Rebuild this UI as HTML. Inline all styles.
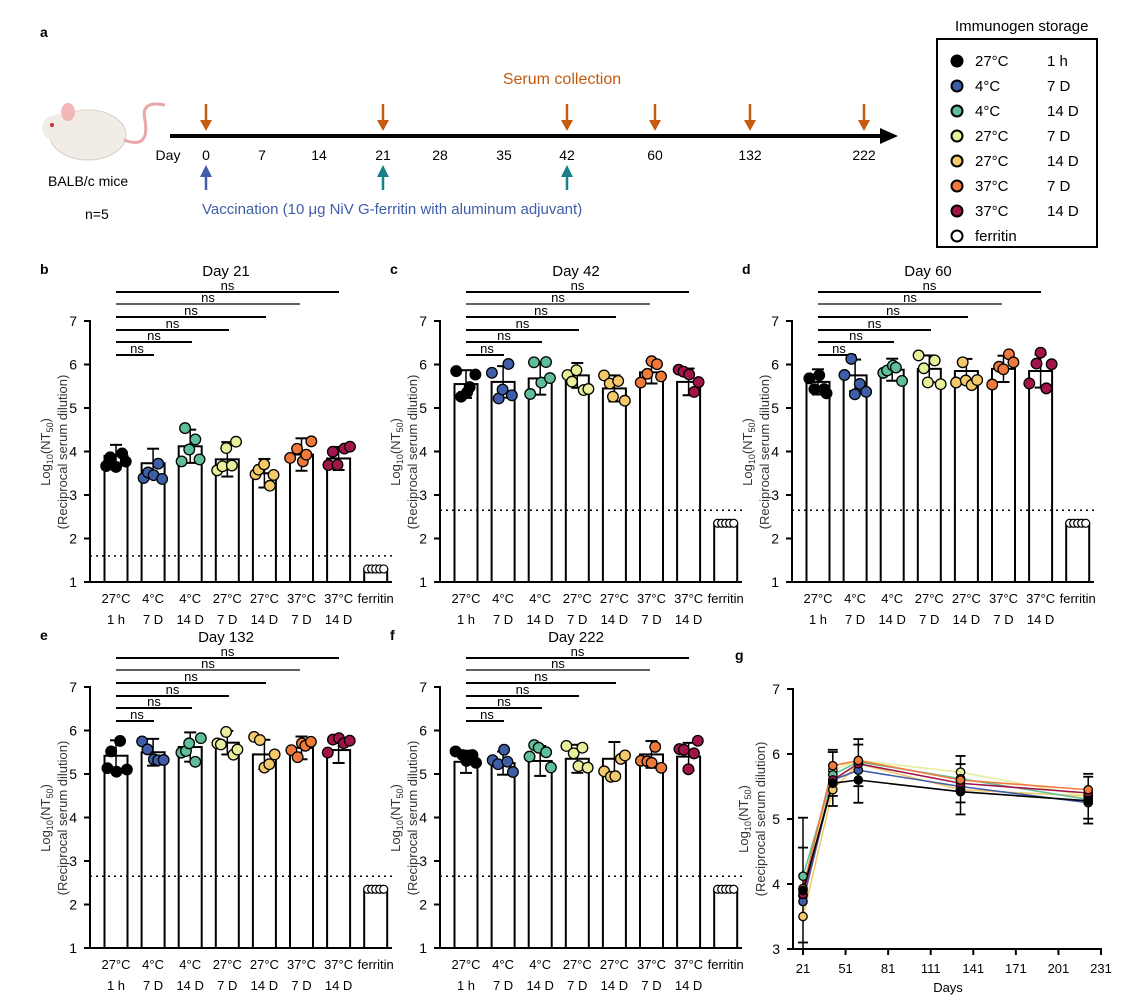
<!DOCTYPE html><html><head><meta charset="utf-8"><style>body{margin:0;background:#fff}svg{display:block;font-family:"Liberation Sans",sans-serif}</style></head><body>
<svg id="s" width="1146" height="1008" viewBox="0 0 1146 1008"></svg>
<script>
const C=['#000','#3f5ea8','#5fbf98','#e8ee9a','#f4c96a','#f07a3c','#a3154a','#fff'];
let h='';
const t=(x,y,s,sz,o)=>{h+=`<text x="${x}" y="${y}" font-size="${sz||14}" ${o||''}>${s}</text>`;};
h+=`<line x1="170" y1="136" x2="885" y2="136" stroke="#000" stroke-width="4"/><polygon points="880,128 898,136 880,144" fill="#000"/>`;
t(40,37,'a',14,'font-weight="bold"');
[['Day',168],['0',206],['7',262],['14',319],['21',383],['28',440],['35',504],['42',567],['60',655],['132',750],['222',864]].forEach(d=>t(d[1],160,d[0],14,'text-anchor="middle"'));
[206,383,567,655,750,864].forEach(x=>{h+=`<line x1="${x}" y1="104" x2="${x}" y2="122" stroke="#c55a11" stroke-width="2.5"/><polygon points="${x-6},120 ${x+6},120 ${x},131" fill="#c55a11"/>`;});
[[206,'#3f5ea8'],[383,'#17808a'],[567,'#17808a']].forEach(a=>{h+=`<line x1="${a[0]}" y1="190" x2="${a[0]}" y2="175" stroke="${a[1]}" stroke-width="2.5"/><polygon points="${a[0]-6},177 ${a[0]+6},177 ${a[0]},165" fill="${a[1]}"/>`;});
t(562,84,'Serum collection',16,'fill="#c55a11" text-anchor="middle"');
t(202,214,'Vaccination (10 μg NiV G-ferritin with aluminum  adjuvant)',15,'fill="#3f5ea8"');
h+=`<ellipse cx="88" cy="135" rx="38" ry="25" fill="#f1ece6" stroke="#d8cfc6"/><ellipse cx="60" cy="128" rx="18" ry="14" fill="#f1ece6"/><ellipse cx="68" cy="112" rx="7" ry="9" fill="#f2b8b8"/><circle cx="52" cy="125" r="2" fill="#c33"/><path d="M124,140 Q150,150 145,120 Q140,100 165,105" stroke="#e8a8a8" stroke-width="3" fill="none"/>`;
t(48,186,'BALB/c mice',14);t(85,219,'n=5',14);
t(955,31,'Immunogen  storage',15);
h+=`<rect x="937" y="39" width="160" height="208" fill="none" stroke="#000" stroke-width="2"/>`;
const L=[['27°C','1 h'],['4°C','7 D'],['4°C','14 D'],['27°C','7 D'],['27°C','14 D'],['37°C','7 D'],['37°C','14 D'],['ferritin','']];
L.forEach((l,i)=>{const y=61+i*25;h+=`<circle cx="957" cy="${y}" r="5.5" fill="${C[i]}" stroke="#000" stroke-width="2"/>`;t(975,y+5,l[0],15);t(1047,y+5,l[1],15);});
function panel(ox,oy,lt,title,means,dot,ferr,seed){
 const Y=v=>oy+582-(v-1)*43.5, X=i=>ox+116+i*37.1;
 t(ox+40,oy+274,lt,14,'font-weight="bold"');
 t(ox+226,oy+276,title,15,'text-anchor="middle"');
 h+=`<line x1="${ox+90}" y1="${oy+320}" x2="${ox+90}" y2="${oy+583}" stroke="#000" stroke-width="2"/><line x1="${ox+89}" y1="${oy+582}" x2="${ox+392}" y2="${oy+582}" stroke="#000" stroke-width="2"/>`;
 for(let v=1;v<=7;v++){h+=`<line x1="${ox+84}" y1="${Y(v)}" x2="${ox+90}" y2="${Y(v)}" stroke="#000" stroke-width="2"/>`;t(ox+77,Y(v)+5,v,14,'text-anchor="end"');}
 const cx=ox+50,cy=oy+452;
 h+=`<text transform="translate(${cx},${cy}) rotate(-90)" font-size="13" fill="#333" text-anchor="middle">Log<tspan font-size="9" dy="3">10</tspan><tspan dy="-3">(NT</tspan><tspan font-size="9" dy="3">50</tspan><tspan dy="-3">)</tspan></text>`;
 h+=`<text transform="translate(${cx+17},${cy}) rotate(-90)" font-size="13" fill="#333" text-anchor="middle">(Reciprocal serum dilution)</text>`;
 const ends=[154,192,229,266,300,339], ys=[355,342,330,317,304,292];
 ends.forEach((e,k)=>{h+=`<line x1="${ox+116}" y1="${oy+ys[k]}" x2="${ox+e}" y2="${oy+ys[k]}" stroke="#000" stroke-width="${k==4?1.2:2}"/>`;t(ox+(116+e)/2+ (k==0?2:0),oy+ys[k]-2,'ns',13,'text-anchor="middle"');});
 let r=seed;const rnd=()=>{r=(r*9301+49297)%233280;return r/233280-0.5;};
 means.forEach((m,i)=>{const x=X(i);
  h+=`<rect x="${x-11.5}" y="${Y(m)}" width="23" height="${582+oy-Y(m)}" fill="#fff" stroke="#000" stroke-width="2"/>`;
  const sd=0.25+Math.abs(rnd())*0.3;
  h+=`<line x1="${x}" y1="${Y(m+sd)}" x2="${x}" y2="${Y(m-sd)}" stroke="#000" stroke-width="1.5"/><line x1="${x-6}" y1="${Y(m+sd)}" x2="${x+6}" y2="${Y(m+sd)}" stroke="#000" stroke-width="2"/><line x1="${x-6}" y1="${Y(m-sd)}" x2="${x+6}" y2="${Y(m-sd)}" stroke="#000" stroke-width="2"/>`;
  for(let k=0;k<5;k++){h+=`<circle cx="${x+(k-2)*5+rnd()*3}" cy="${Y(m+rnd()*sd*2.4)}" r="5.3" fill="${C[i]}" stroke="#000" stroke-width="1.3"/>`;}
 });
 const fx=X(7);h+=`<rect x="${fx-11.5}" y="${Y(ferr)}" width="23" height="${582+oy-Y(ferr)}" fill="#fff" stroke="#000" stroke-width="2"/>`;
 for(let k=0;k<5;k++)h+=`<circle cx="${fx-8+k*4}" cy="${Y(ferr)}" r="4" fill="#fff" stroke="#000" stroke-width="1.2"/>`;
 h+=`<line x1="${ox+90}" y1="${Y(dot)}" x2="${ox+392}" y2="${Y(dot)}" stroke="#000" stroke-width="1.5" stroke-dasharray="2,4"/>`;
 L.forEach((l,i)=>{t(X(i),oy+603,l[0]=='ferritin'?'ferritin':l[0],13,'text-anchor="middle"');t(X(i),oy+624,l[1],13,'text-anchor="middle"');});
}
const M=[[3.9,3.73,4.12,3.82,3.5,3.93,3.84],[5.55,5.6,5.68,5.75,5.45,5.82,5.6],[5.6,5.75,5.88,5.9,5.85,5.9,5.85],[5.42,5.5,5.62,5.72,5.45,5.6,5.55],[5.28,5.25,5.3,5.35,5.35,5.45,5.4]];
panel(0,0,'b','Day 21',M[0],1.6,1.3,7);
panel(350,0,'c','Day 42',M[1],2.65,2.35,13);
panel(702,0,'d','Day 60',M[2],2.65,2.35,29);
panel(0,366,'e','Day 132',M[3],2.65,2.35,41);
panel(350,366,'f','Day 222',M[4],2.65,2.35,57);
t(735,660,'g',14,'font-weight="bold"');
const gx=d=>803+(d-21)*298/210, gy=v=>689+(7-v)*65;
h+=`<line x1="793" y1="688" x2="793" y2="950" stroke="#000" stroke-width="2"/><line x1="792" y1="949" x2="1102" y2="949" stroke="#000" stroke-width="2"/>`;
for(let v=3;v<=7;v++){h+=`<line x1="787" y1="${gy(v)}" x2="793" y2="${gy(v)}" stroke="#000" stroke-width="2"/>`;t(780,gy(v)+5,v,14,'text-anchor="end"');}
for(let d=21;d<=231;d+=30){h+=`<line x1="${gx(d)}" y1="949" x2="${gx(d)}" y2="955" stroke="#000" stroke-width="2"/>`;t(gx(d),973,d,13,'text-anchor="middle"');}
t(948,992,'Days',13,'text-anchor="middle"');
h+=`<text transform="translate(748,819) rotate(-90)" font-size="13" fill="#333" text-anchor="middle">Log<tspan font-size="9" dy="3">10</tspan><tspan dy="-3">(NT</tspan><tspan font-size="9" dy="3">50</tspan><tspan dy="-3">)</tspan></text><text transform="translate(765,819) rotate(-90)" font-size="13" fill="#333" text-anchor="middle">(Reciprocal serum dilution)</text>`;
const D=[21,42,60,132,222];
const order=[4,3,1,2,6,5,0];
order.forEach(i=>{const vs=M.map(m=>m[i]);h+=`<polyline points="${D.map((d,k)=>gx(d)+','+gy(vs[k])).join(' ')}" fill="none" stroke="${C[i]}" stroke-width="1.6"/>`;});
D.forEach((d,k)=>{const e=k==0?0.9:0.35;h+=`<line x1="${gx(d)}" y1="${gy(M[k][2]+e)}" x2="${gx(d)}" y2="${gy(M[k][0]-e)}" stroke="#000" stroke-width="1.5"/>`;[M[k][2]+e,M[k][0]-e,M[k][5]+e*0.7,M[k][1]-e*0.7].forEach(v=>h+=`<line x1="${gx(d)-5}" y1="${gy(v)}" x2="${gx(d)+5}" y2="${gy(v)}" stroke="#000" stroke-width="1.8"/>`);
 order.forEach(i=>h+=`<circle cx="${gx(d)}" cy="${gy(M[k][i])}" r="4.2" fill="${C[i]}" stroke="#000" stroke-width="1.3"/>`);});
document.getElementById('s').innerHTML=h;
</script></body></html>
